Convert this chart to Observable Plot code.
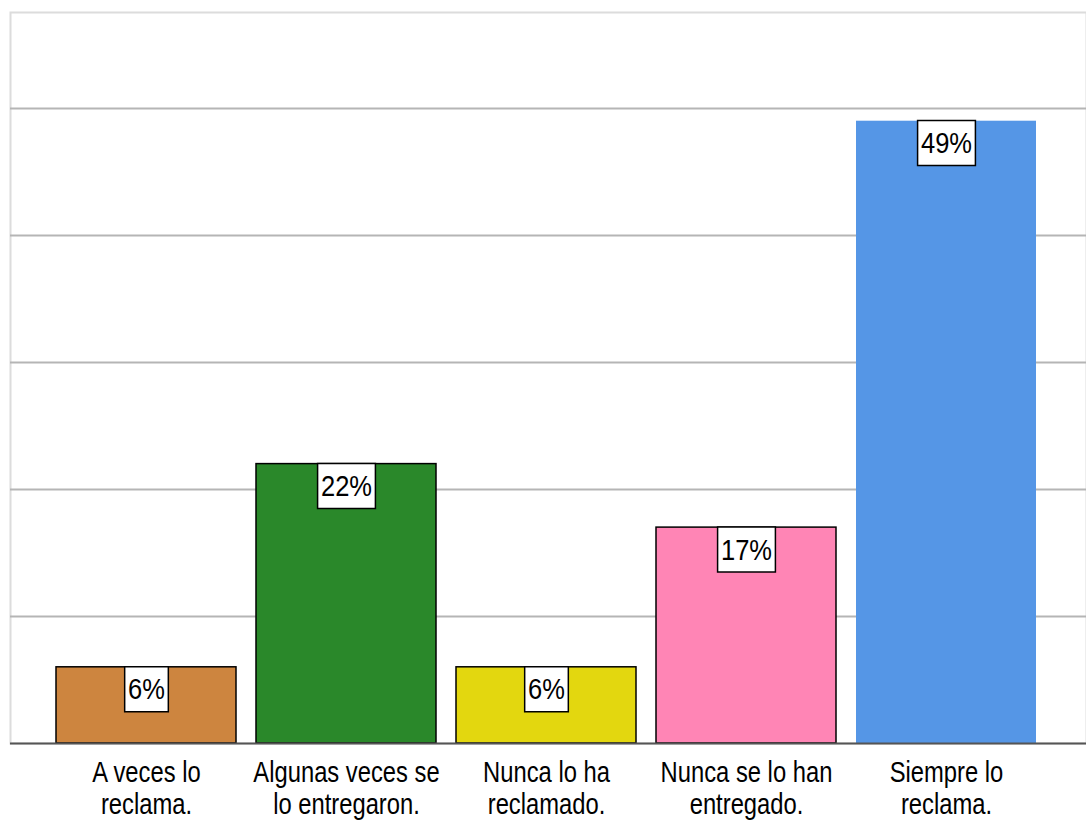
<!DOCTYPE html>
<html><head><meta charset="utf-8">
<script src="https://cdn.jsdelivr.net/npm/d3@7"></script>
<script src="https://cdn.jsdelivr.net/npm/@observablehq/plot@0.6"></script>
<style>body{margin:0;background:#fff}</style>
</head><body><div id="chart"></div>
<script>
const categories = ["A veces lo\nreclama.", "Algunas veces se\nlo entregaron.", "Nunca lo ha\nreclamado.", "Nunca se lo han\nentregado.", "Siempre lo\nreclama."];
const values = [6, 22, 6, 17, 49];
const labels = ["6%", "22%", "6%", "17%", "49%"];
const fills = ["#CD853F", "#2A882A", "#E3D70F", "#FF85B5", "#5596E6"];
const strokes = ["#000", "#000", "#000", "#000", "none"];
const gridTicks = [10, 20, 30, 40, 50];

const data = categories.map((c, i) => ({cat: c, value: values[i], label: labels[i], fill: fills[i], stroke: strokes[i]}));

const font = '"Liberation Sans Narrow","Arial Narrow","Liberation Sans",sans-serif';
const chart = Plot.plot({
  width: 1086, height: 839,
  marginLeft: 10, marginRight: 0, marginTop: 12, marginBottom: 96,
  style: {fontFamily: font, color: "#000", background: "#fff", overflow: "visible"},
  x: {domain: categories, range: [45, 1047.5], paddingInner: 0.1, paddingOuter: 0.05, label: null, axis: null},
  y: {domain: [0, 57.56], axis: null},
  color: {type: "identity"},
  marks: [
    Plot.frame({stroke: "#dcdcdc", strokeWidth: 2}),
    Plot.ruleY(gridTicks, {stroke: "#b5b5b5", strokeWidth: 2}),
    Plot.barY(data, {x: "cat", y: "value", fill: "fill", stroke: "stroke", strokeWidth: 1.5}),
    Plot.ruleY([0], {stroke: "#555", strokeWidth: 2}),
    Plot.axisX({tickSize: 0, tickPadding: 15, fontSize: 29, lineHeight: 1.12, label: null, fill: "#000", className: "xlab"}),
    Plot.text(data, {x: "cat", y: "value", text: "label", dy: 22.5, fontSize: 30, fill: "#000", className: "vlabel"})
  ]
});
document.getElementById("chart").appendChild(chart);

// condense text horizontally (narrow font look)
document.querySelectorAll("g.xlab text").forEach(t => {
  t.setAttribute("transform", (t.getAttribute("transform") || "") + " scale(0.82,1)");
});
document.querySelectorAll("g.vlabel text").forEach(t => {
  t.setAttribute("transform", (t.getAttribute("transform") || "") + " scale(0.85,1)");
});

// white boxes behind value labels, sized from the rendered text
document.querySelectorAll("g.vlabel text").forEach(t => {
  const bb = t.getBBox();
  const r = document.createElementNS("http://www.w3.org/2000/svg", "rect");
  const cy = bb.y + bb.height / 2;
  r.setAttribute("x", bb.x - 4);
  r.setAttribute("width", bb.width + 8);
  r.setAttribute("y", cy - 22.5);
  r.setAttribute("height", 45);
  r.setAttribute("fill", "#fff");
  r.setAttribute("stroke", "#000");
  r.setAttribute("stroke-width", 1.5);
  r.setAttribute("vector-effect", "non-scaling-stroke");
  r.setAttribute("transform", t.getAttribute("transform"));
  t.parentNode.insertBefore(r, t);
});
</script>
</body></html>
